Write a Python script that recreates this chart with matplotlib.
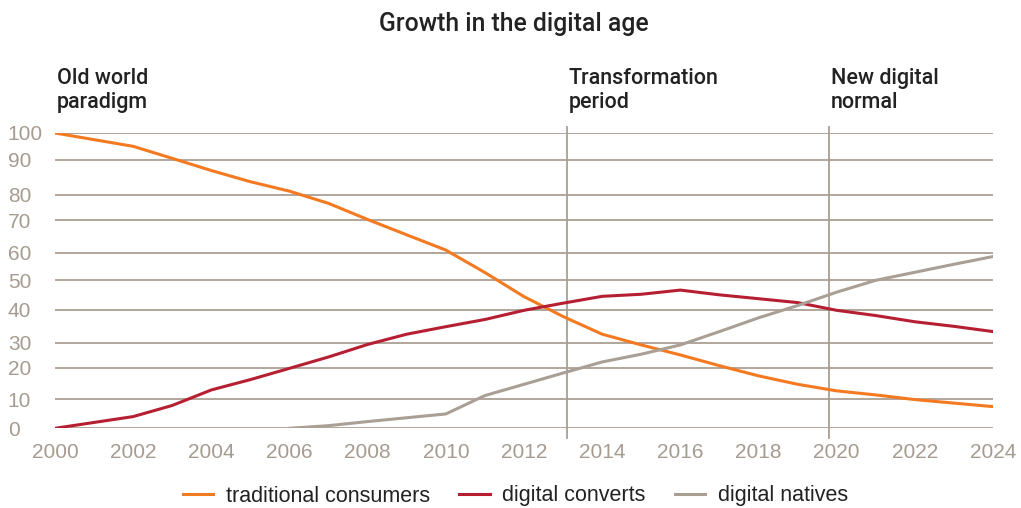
import numpy as np
import matplotlib.pyplot as plt

plt.rcParams['font.family'] = ['Liberation Sans', 'DejaVu Sans']

years = list(range(2000, 2025))
traditional = [100, 97.5, 95, 90.5, 86.9, 83.7, 81, 76.6, 70.3, 65.5, 60.8, 52.8,
               44.5, 38, 32.6, 29.1, 25.1, 20.8, 17.4, 14.7, 12.6, 11.3, 9.8, 8.6, 7.4]
converts = [0, 2.0, 4.0, 7.8, 12.9, 16.2, 19.8, 24.3, 29.3, 32.6, 34.9, 37.1,
            39.9, 42.3, 44.6, 45.3, 46.7, 45.1, 43.8, 42.5, 39.9, 38.3, 36.4, 35.0, 33.4]
natives_years = list(range(2006, 2025))
natives = [0, 0.9, 2.3, 3.6, 4.9, 11.1, 14.7, 18.3, 22.3, 25.4, 29.1, 33.4,
           37.6, 41.5, 46.0, 50.0, 52.9, 55.8, 58.6]

y_ticks = [0, 10, 20, 30, 40, 50, 60, 70, 80, 90, 100]
x_ticks = list(range(2000, 2025, 2))
phases = [(2000, "Old world\nparadigm"),
          (2013.1, "Transformation\nperiod"),
          (2019.8, "New digital\nnormal")]

# the gridlines are not evenly spaced, so the y axis is mapped piecewise
grid_frac = [0, 0.0992, 0.2052, 0.2899, 0.4006, 0.5012, 0.5947, 0.7044, 0.7911, 0.9096, 1.0]

def fwd(v):
    return np.interp(v, y_ticks, grid_frac)

def inv(f):
    return np.interp(f, grid_frac, y_ticks)

ORANGE = '#F47A21'
RED = '#B61F32'
GREY = '#A99F95'
TICK = '#A69B90'
TEXT = '#222222'

fig = plt.figure(figsize=(10.21, 5.08), dpi=100)
ax = fig.add_axes([0.0539, 0.1569, 0.9187, 0.5813])
ax.set_yscale('function', functions=(fwd, inv))
ax.set_xlim(2000, 2024)
ax.set_ylim(0, 100)

for v in y_ticks:
    ax.axhline(v, color='#B0A69C', lw=1.4, zorder=1)
for x, _ in phases[1:]:
    ax.axvline(x, ymin=-0.033, ymax=1.021, color='#A89E94', lw=1.3, clip_on=False, zorder=1)

ax.plot(years, traditional, color=ORANGE, lw=2.2, label='traditional consumers', zorder=3)
ax.plot(years, converts, color=RED, lw=2.2, label='digital converts', zorder=3)
ax.plot(natives_years, natives, color=GREY, lw=2.2, label='digital natives', zorder=3)

for s in ax.spines.values():
    s.set_visible(False)
ax.set_xticks(x_ticks)
ax.set_yticks(y_ticks)
ax.set_xticklabels([str(x) for x in x_ticks])
ax.set_yticklabels([str(v) for v in y_ticks])
ax.minorticks_off()
ax.tick_params(axis='both', length=0, colors=TICK, labelsize=15)
ax.tick_params(axis='y', pad=34)
ax.tick_params(axis='x', pad=10.5)
for lbl in ax.get_yticklabels():
    lbl.set_horizontalalignment('left')

fig.text(0.5034, 1 - 31.5 / 508, "Growth in the digital age", ha='center', va='baseline',
         fontsize=17.8, color=TEXT, family='Roboto', fontweight='medium')
for x, txt in phases:
    ax.text(x + 0.05, 1 + (133 - 108) / 295.3, txt, transform=ax.get_xaxis_transform(),
            ha='left', va='baseline', fontsize=15.5, color=TEXT, linespacing=1.2,
            family='Roboto', fontweight='medium')

fig.legend(loc='center', bbox_to_anchor=(0.505, 1 - 496 / 508), ncol=3, frameon=False,
           fontsize=15.5, handlelength=1.4, handletextpad=0.6, columnspacing=1.35,
           labelcolor=TEXT)

fig.savefig('out.png', dpi=100)
